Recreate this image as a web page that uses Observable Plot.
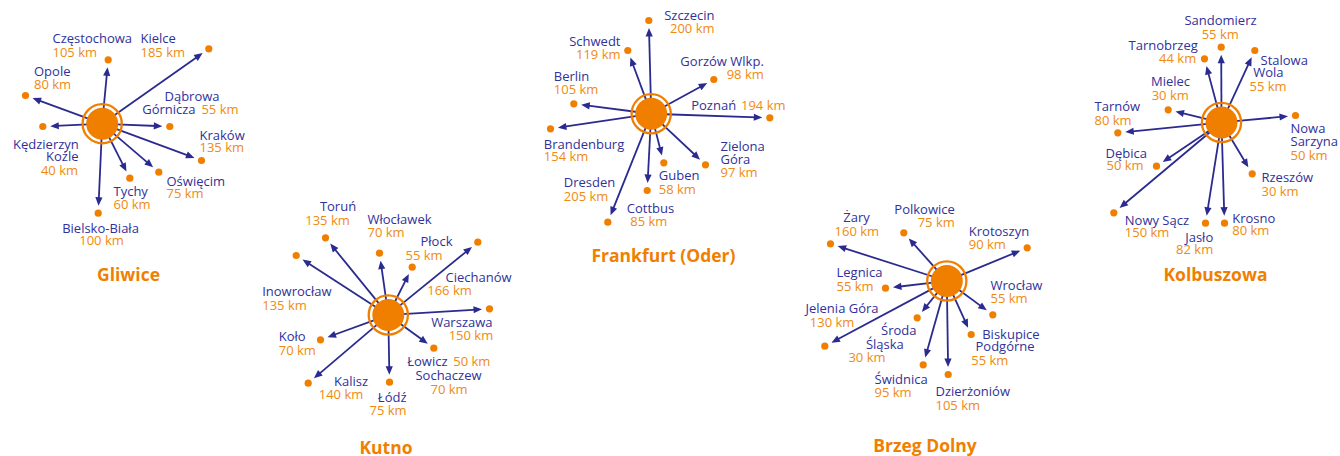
<!DOCTYPE html>
<html><head><meta charset="utf-8">
<script src="https://cdn.jsdelivr.net/npm/d3@7"></script>
<script src="https://cdn.jsdelivr.net/npm/@observablehq/plot@0.6"></script>
<style>body{margin:0;background:#fff}</style>
</head><body><div id="chart"></div>
<script>
// ---- DATA: hubs and destinations (name, distance in km) ----
const hubs = ["Gliwice", "Kutno", "Frankfurt (Oder)", "Brzeg Dolny", "Kolbuszowa"];
const gliwiceDest = [["Częstochowa",105],["Kielce",185],["Opole",80],["Dąbrowa\nGórnicza",55],["Kraków",135],["Kędzierzyn\nKoźle",40],["Tychy",60],["Oświęcim",75],["Bielsko-Biała",100]];
const kutnoDest = [["Toruń",135],["Włocławek",70],["Płock",55],["Ciechanów",166],["Warszawa",150],["Łowicz",50],["Sochaczew",70],["Łódź",75],["Kalisz",140],["Koło",70],["Inowrocław",135]];
const frankfurtDest = [["Szczecin",200],["Schwedt",119],["Berlin",105],["Brandenburg",154],["Dresden",205],["Cottbus",85],["Guben",58],["Zielona\nGóra",97],["Poznań",194],["Gorzów Wlkp.",98]];
const brzegDest = [["Żary",160],["Polkowice",75],["Krotoszyn",90],["Legnica",55],["Wrocław",55],["Jelenia Góra",130],["Środa\nŚląska",30],["Świdnica",95],["Dzierżoniów",105],["Biskupice\nPodgórne",55]];
const kolbuszowaDest = [["Sandomierz",55],["Tarnobrzeg",44],["Stalowa\nWola",55],["Mielec",30],["Tarnów",80],["Nowa\nSarzyna",50],["Dębica",50],["Rzeszów",30],["Nowy Sącz",150],["Jasło",82],["Krosno",80]];
const destByHub = [gliwiceDest, kutnoDest, frankfurtDest, brzegDest, kolbuszowaDest];

// ---- LAYOUT (diagram positions in picture units) ----
const hubLayout = [[101.7,123.2,128,274.5],[387.8,314.5,385.5,447.5],[650.7,113.3,663,256],[946.3,280.5,924.5,445.5],[1221,122,1215,275]];
const gliwiceLayout = [
 [107.7,59.3,[[52,38.5,"s"],[52,52.3,"s"]]],
 [208.3,48.3,[[140,38,"s"],[140,52,"s"]]],
 [25,95,[[33.5,71.7,"s"],[33.5,84.5,"s"]]],
 [169.3,126,[[191.5,96.7,"m"],[141.7,109.3,"s"],[238,109.3,"e"]]],
 [201,160,[[199,135,"s"],[199,147.7,"s"]]],
 [42.3,126,[[78.3,144,"e"],[78,156.7,"e"],[77.5,170,"e"]]],
 [129.3,177.7,[[113,191.7,"s"],[113,204,"s"]]],
 [158.3,171.7,[[166,181,"s"],[166,193.3,"s"]]],
 [97.7,212.7,[[100,228.3,"m"],[101,240.7,"m"]]]
];
const kutnoLayout = [
 [325,237.3,[[337.5,206.7,"m"],[327,220.7,"m"]]],
 [379,252.7,[[367,219,"s"],[367,232.7,"s"]]],
 [411.7,266.7,[[420,241.7,"s"],[405,255,"s"]]],
 [477.3,241.7,[[445,277.3,"s"],[426.7,290.5,"s"]]],
 [489,308.3,[[492,322.7,"e"],[492.7,335.7,"e"]]],
 [433.3,347.7,[[406.7,361.7,"s"],[452.7,361.7,"s"]]],
 [433.3,347.7,[[448,375,"m"],[448.5,389,"m"]]],
 [389,381.7,[[391.7,397.3,"m"],[387.5,410,"m"]]],
 [307.7,382.7,[[350.5,381.7,"m"],[340.5,394,"m"]]],
 [320,339.3,[[278.3,336.7,"s"],[278.3,350.7,"s"]]],
 [295.7,255,[[261.7,291,"s"],[261.7,305,"s"]]]
];
const frankfurtLayout = [
 [648.3,20,[[714,15,"e"],[714,28.5,"e"]]],
 [627.3,50,[[620,41.7,"e"],[620,54.3,"e"]]],
 [573.3,103.3,[[553.3,76,"s"],[553.3,89.3,"s"]]],
 [550,128.3,[[543.3,144.3,"s"],[543.3,156.7,"s"]]],
 [607.3,221.7,[[563.3,182.7,"s"],[563.3,196,"s"]]],
 [646.7,190,[[650,208.3,"m"],[648.3,221,"m"]]],
 [663.3,162.3,[[658.3,175,"s"],[658.3,189.3,"s"]]],
 [705,164.3,[[720,146.7,"s"],[720,159.3,"s"],[720,172.7,"s"]]],
 [769.3,117.3,[[690.7,105,"s"],[785,105,"e"]]],
 [713.3,79,[[763.3,61,"e"],[763.3,74,"e"]]]
];
const brzegLayout = [
 [830,243.3,[[856,217.7,"m"],[856.3,231.7,"m"]]],
 [903.3,232.3,[[954.3,209.3,"e"],[954.3,222.7,"e"]]],
 [1026.7,247.3,[[968.3,231.7,"s"],[968.3,244,"s"]]],
 [885,287.7,[[836,272.7,"s"],[836,286.7,"s"]]],
 [992.3,314.3,[[990,285,"s"],[990,298.3,"s"]]],
 [824.3,345.7,[[805,308.3,"s"],[809.3,322.7,"s"]]],
 [916.7,317.3,[[916,330.7,"e"],[903.3,344,"e"],[885,357.3,"e"]]],
 [922.7,364.3,[[874,379.3,"s"],[874,392.3,"s"]]],
 [947.7,374,[[935,391.7,"s"],[935,405.7,"s"]]],
 [970.7,334,[[981.7,334,"s"],[975,346.7,"s"],[970.7,360,"s"]]]
];
const kolbuszowaLayout = [
 [1220.7,46.7,[[1220,20.7,"m"],[1219.7,34.3,"m"]]],
 [1204,58.3,[[1197.3,45,"e"],[1195.7,58.3,"e"]]],
 [1254.3,50,[[1260,60,"s"],[1252.7,72.7,"s"],[1249,86,"s"]]],
 [1167.7,109.3,[[1170,81.7,"m"],[1169.7,95.7,"m"]]],
 [1117.3,132.3,[[1094,106.7,"s"],[1094,120,"s"]]],
 [1295,115,[[1290,128.3,"s"],[1290,141.7,"s"],[1290,155,"s"]]],
 [1156,165.7,[[1105,153.3,"s"],[1106,165.7,"s"]]],
 [1251.7,173.3,[[1261,177.7,"s"],[1261,191,"s"]]],
 [1113.3,212.3,[[1124.3,220,"s"],[1124.3,232.3,"s"]]],
 [1205,222.7,[[1212.7,237.3,"e"],[1212.7,249.3,"e"]]],
 [1224,222.7,[[1231.7,218.3,"s"],[1231.7,230.7,"s"]]]
];
const layoutByHub = [gliwiceLayout, kutnoLayout, frankfurtLayout, brzegLayout, kolbuszowaLayout];

// ---- STYLE ----
const BLUE = "#2b2b8f", ORANGE = "#f07f00", TXT_BLUE = "#31319a", TXT_ORANGE = "#f08a10";
const FONT = "'Open Sans', 'Noto Sans', sans-serif";
const anchors = {s: "start", m: "middle", e: "end"};

// ---- build tables ----
const hubRows = hubs.map((h, i) => ({hub: h, x: hubLayout[i][0], y: hubLayout[i][1], tx: hubLayout[i][2], ty: hubLayout[i][3]}));
const arrows = [], dots = [], lines = [];
hubs.forEach((h, i) => {
  const [hx, hy] = hubLayout[i];
  const seen = new Set();
  destByHub[i].forEach(([name, km], j) => {
    const [px, py, pos] = layoutByHub[i][j];
    const key = px + "," + py;
    if (!seen.has(key)) {
      seen.add(key);
      const dx = px - hx, dy = py - hy, d = Math.hypot(dx, dy), ux = dx / d, uy = dy / d;
      const tipD = d - 7.5;
      arrows.push({x1: hx + ux * 14, y1: hy + uy * 14, x2: hx + ux * (tipD - 5), y2: hy + uy * (tipD - 5),
                   tx: hx + ux * tipD, ty: hy + uy * tipD, angle: Math.atan2(dy, dx) * 180 / Math.PI});
      dots.push({x: px, y: py});
    }
    const nameLines = name.split("\n");
    nameLines.concat([km + " km"]).forEach((t, k) => {
      lines.push({text: t, x: pos[k][0], y: pos[k][1], anchor: anchors[pos[k][2]], fill: k < nameLines.length ? TXT_BLUE : TXT_ORANGE});
    });
  });
});

const arrowHead = {draw(ctx) { ctx.moveTo(0, 0); ctx.lineTo(-8.5, -3.6); ctx.lineTo(-8.5, 3.6); ctx.closePath(); }};

const textMarks = ["start", "middle", "end"].map(a =>
  Plot.text(lines.filter(l => l.anchor === a), {x: "x", y: "y", text: "text", fill: "fill", textAnchor: a, fontSize: 13, fontFamily: FONT}));

const chart = Plot.plot({
  width: 1340, height: 456, margin: 0,
  x: {domain: [0, 1340], range: [0, 1340], axis: null},
  y: {domain: [0, 456], range: [0, 456], axis: null},
  color: {type: "identity"},
  style: {fontFamily: FONT, background: "#fff"},
  marks: [
    Plot.link(arrows, {x1: "x1", y1: "y1", x2: "x2", y2: "y2", stroke: BLUE, strokeWidth: 1.8}),
    Plot.dot(arrows, {x: "tx", y: "ty", symbol: arrowHead, rotate: "angle", fill: BLUE, r: 3}),
    Plot.dot(dots, {x: "x", y: "y", r: 3.6, fill: ORANGE}),
    Plot.dot(hubRows, {x: "x", y: "y", r: 16, fill: ORANGE}),
    Plot.dot(hubRows, {x: "x", y: "y", r: 19.6, stroke: ORANGE, strokeWidth: 2.3, fill: "none"}),
    ...textMarks,
    Plot.text(hubRows, {x: "tx", y: "ty", text: "hub", fill: ORANGE, fontSize: 17.5, fontWeight: "bold", fontFamily: FONT})
  ]
});
document.getElementById("chart").appendChild(chart);
</script>
</body></html>
